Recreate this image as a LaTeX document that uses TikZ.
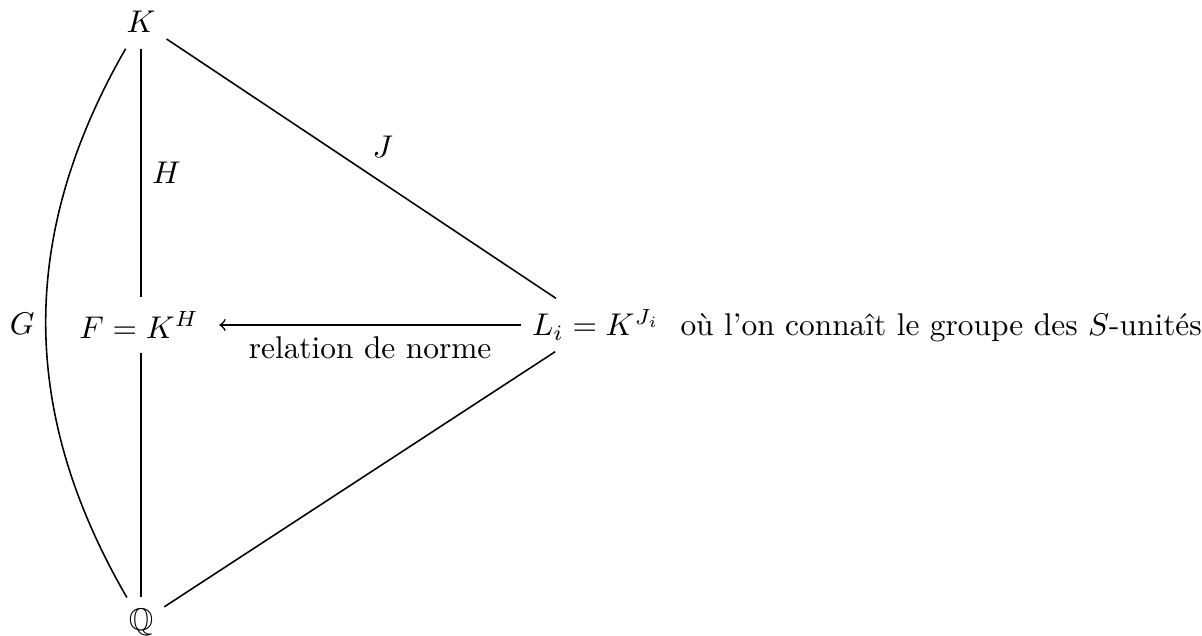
\documentclass[tikz,border=0pt]{standalone}
\usepackage{amssymb}
\usepackage{fontspec}
\begin{document}
\begin{tikzpicture}[x=0.3185pt,y=-0.3185pt,
  every node/.style={inner sep=3.33pt},
  edge/.style={line width=0.5pt}]
\useasboundingbox (0,0) rectangle (1202,635);
\node[minimum height=16.6pt] (K) at (141,22) {$K$};
\node[minimum height=17.2pt, inner xsep=6.4pt] (F) at (139,325) {$F = K^H$};
\node (Q) at (141,622) {$\mathbb{Q}$};
\node (L) at (596,325) {$L_i = K^{J_i}$};
\node[anchor=base west, inner sep=0pt, xshift=2.8pt] (txt) at (L.base -| L.east) {où l'on connaît le groupe des $S$-unités};
\draw[edge] (K) -- node[right] {$H$} (F.north -| K);
\draw[edge] (F.south -| Q) -- (Q);
\draw[edge] (K) to[bend right=30] node[left] {$G$} (Q);
\draw[edge] (K) -- node[above right] {$J$} (L);
\draw[edge] (Q) -- (L);
\draw[edge,->] (L) -- node[below] {relation de norme} (F);
\end{tikzpicture}
\end{document}
